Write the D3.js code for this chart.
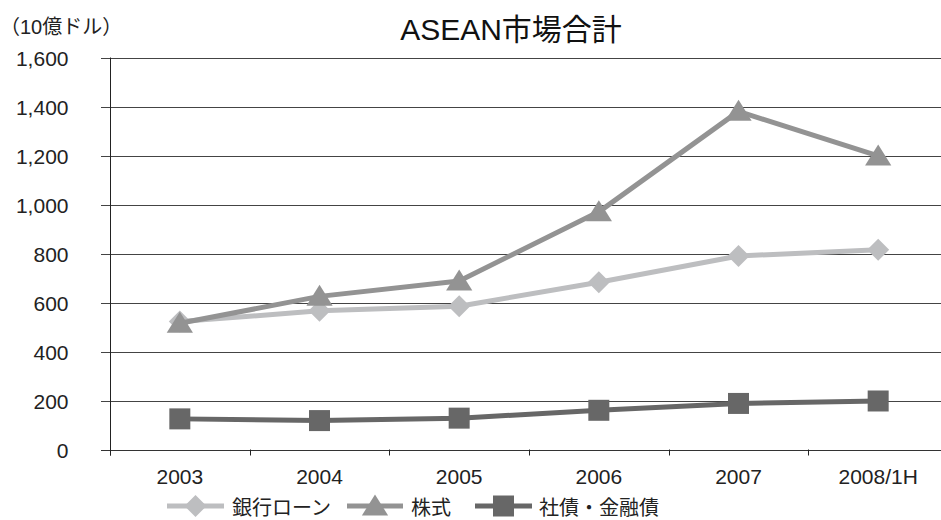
<!DOCTYPE html>
<html>
<head>
<meta charset="utf-8">
<script src="https://cdn.jsdelivr.net/npm/d3@7/dist/d3.min.js"></script>
<style>
  html, body { margin: 0; padding: 0; background: #fff; }
  svg { display: block; font-family: "Liberation Sans", Arial, "Noto Sans CJK JP", sans-serif; }
</style>
</head>
<body>
<svg id="chart" width="941" height="520"></svg>
<script>
// Categories and series (units: 10億ドル)
const categories = ["2003", "2004", "2005", "2006", "2007", "2008/1H"];
const bankLoans = [522, 566, 585, 683, 790, 815];
const equities = [515, 625, 688, 970, 1380, 1198];
const bonds = [125, 118, 128, 160, 188, 198];
const yTicks = [0, 200, 400, 600, 800, 1000, 1200, 1400, 1600];

const seriesNames = ["銀行ローン", "株式", "社債・金融債"];
const seriesData = [bankLoans, equities, bonds];
const colors = ["#bdbec0", "#939393", "#676767"];
const shapes = ["diamond", "triangle", "square"];

const svg = d3.select("#chart");
const plotLeft = 110, plotRight = 948, plotTop = 57.5, plotBottom = 449.5;

const x = d3.scaleBand().domain(categories).range([plotLeft, plotRight]);
const y = d3.scaleLinear().domain([0, 1600]).range([plotBottom, plotTop]);

// Horizontal gridlines
svg.append("g")
  .selectAll("line")
  .data(yTicks)
  .join("line")
  .attr("x1", plotLeft - 9).attr("x2", 941)
  .attr("y1", d => Math.round(y(d)) + 0.5).attr("y2", d => Math.round(y(d)) + 0.5)
  .attr("stroke", d => d === 0 ? "#333" : "#444")
  .attr("stroke-width", 1);

// Y axis line
svg.append("line")
  .attr("x1", plotLeft + 0.5).attr("x2", plotLeft + 0.5)
  .attr("y1", plotTop).attr("y2", plotBottom + 6)
  .attr("stroke", "#222");

// Y tick labels
svg.append("g")
  .selectAll("text")
  .data(yTicks)
  .join("text")
  .attr("x", 68.5)
  .attr("y", d => y(d) + 8)
  .attr("text-anchor", "end")
  .attr("font-size", 21)
  .attr("fill", "#222")
  .text(d => d3.format(",")(d));

// X category ticks
const tickXs = categories.map(c => x(c)).concat([plotRight]);
svg.append("g")
  .selectAll("line")
  .data(tickXs)
  .join("line")
  .attr("x1", d => Math.round(d) + 0.5).attr("x2", d => Math.round(d) + 0.5)
  .attr("y1", plotBottom).attr("y2", plotBottom + 6)
  .attr("stroke", "#222");

// X labels
svg.append("g")
  .selectAll("text")
  .data(categories)
  .join("text")
  .attr("x", d => x(d) + x.bandwidth() / 2)
  .attr("y", 483.5)
  .attr("text-anchor", "middle")
  .attr("font-size", 21)
  .attr("fill", "#222")
  .text(d => d);

// Marker symbol paths
function markerPath(shape, s) {
  if (shape === "diamond") return `M0,${-s}L${s},0L0,${s}L${-s},0Z`;
  if (shape === "triangle") return `M0,${-s * 1.1}L${s * 1.25},${s * 0.9}L${-s * 1.25},${s * 0.9}Z`;
  return `M${-s},${-s}H${s}V${s}H${-s}Z`;
}
const markerSize = [11, 10.5, 10.5];

const line = d3.line()
  .x((d, i) => x(categories[i]) + x.bandwidth() / 2)
  .y(d => y(d));

seriesData.forEach((vals, k) => {
  const g = svg.append("g");
  g.append("path")
    .datum(vals)
    .attr("d", line)
    .attr("fill", "none")
    .attr("stroke", colors[k])
    .attr("stroke-width", 5)
    .attr("stroke-linejoin", "round");
  g.selectAll("path.m")
    .data(vals)
    .join("path")
    .attr("class", "m")
    .attr("transform", (d, i) => `translate(${x(categories[i]) + x.bandwidth() / 2},${y(d)})`)
    .attr("d", markerPath(shapes[k], markerSize[k]))
    .attr("fill", colors[k]);
});

// Title and unit
svg.append("text")
  .attr("x", 511).attr("y", 39.5)
  .attr("text-anchor", "middle")
  .attr("font-size", 30)
  .attr("fill", "#111")
  .text("ASEAN市場合計");

svg.append("text")
  .attr("x", 0).attr("y", 34)
  .attr("font-size", 20)
  .attr("fill", "#222")
  .text("（10億ドル）");

// Legend
const legendItems = [
  { x0: 167, x1: 224, tx: 232 },
  { x0: 347, x1: 403, tx: 411 },
  { x0: 475, x1: 532, tx: 539 }
];
const lg = svg.append("g");
legendItems.forEach((it, k) => {
  lg.append("line")
    .attr("x1", it.x0).attr("x2", it.x1)
    .attr("y1", 506).attr("y2", 506)
    .attr("stroke", colors[k]).attr("stroke-width", 5);
  lg.append("path")
    .attr("transform", `translate(${(it.x0 + it.x1) / 2},506)`)
    .attr("d", markerPath(shapes[k], markerSize[k]))
    .attr("fill", colors[k]);
  lg.append("text")
    .attr("x", it.tx).attr("y", 515)
    .attr("font-size", 20)
    .attr("fill", "#222")
    .text(seriesNames[k]);
});
</script>
</body>
</html>
